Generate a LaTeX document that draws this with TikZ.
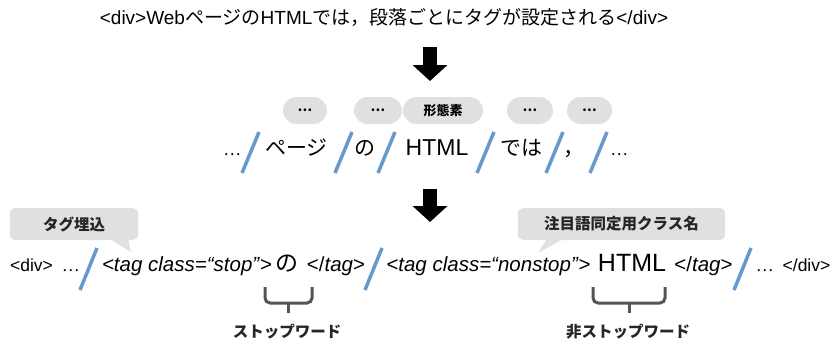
\documentclass[tikz,border=0pt]{standalone}
\usepackage{fontspec}
\setmainfont{Liberation Sans}
\newfontfamily\jp{Noto Sans CJK JP}
\usetikzlibrary{arrows.meta,shapes.misc}
\definecolor{cutblue}{RGB}{102,153,204}
\definecolor{boxgray}{RGB}{224,224,224}
\definecolor{bracegray}{RGB}{85,85,85}

\begin{document}
\begin{tikzpicture}[x=1pt,y=-1pt,
  every node/.style={inner sep=0pt},
  txt/.style={anchor=base,font=\fontsize{17.5}{21}\selectfont},
  tag/.style={anchor=base,font=\fontsize{20.5}{24}\selectfont},
  word/.style={anchor=base,font=\jp\fontsize{21}{24}\selectfont},
  big/.style={anchor=base,font=\fontsize{23}{27}\selectfont},
  pill/.style={rounded rectangle,fill=boxgray,minimum height=27pt,font=\jp\bfseries\fontsize{13}{15}\selectfont},
  note/.style={fill=boxgray,rounded corners=5pt,minimum height=32pt,text=black!85,font=\jp\bfseries\fontsize{15.5}{18}\selectfont},
  label/.style={text=black!85,font=\jp\bfseries\fontsize{15.5}{18}\selectfont},
  cut/.style={draw=cutblue,line width=3.5pt},
  brace/.style={draw=bracegray,line width=3pt,rounded corners=5pt},
  bigarrow/.style={line width=14pt,-{Triangle[width=34pt,length=16pt]}}]
  \useasboundingbox (0,0) rectangle (834,345);

  \node[txt,font=\fontsize{19}{23}\selectfont] (src) at (384,25) {<div>Web{\jp ページの}HTML{\jp では，段落ごとにタグが設定される}</div>};

  \coordinate (a1s) at (430,47);
  \coordinate (a1e) at (430,81);
  \draw[bigarrow] (a1s) -- (a1e);

  % morphemes
  \node[pill,minimum width=44pt] (m1) at (305,110.5) {…};
  \node[pill,minimum width=48pt] (m2) at (378,110.5) {…};
  \node[pill,minimum width=80pt] (m3) at (443,110.5) {形態素};
  \node[pill,minimum width=46pt] (m4) at (530,110.5) {…};
  \node[pill,minimum width=45pt] (m5) at (589.5,110.5) {…};

  \node[word,font=\jp\fontsize{16}{18}\selectfont] (w0) at (232,155) {…};
  \node[word] (w1) at (296.5,155) {ページ};
  \node[word] (w2) at (364.5,155) {の};
  \node[big] (w3) at (437,155) {HTML};
  \node[word] (w4) at (521,155) {では};
  \node[word,anchor=base west] (w5) at (563,155) {，};
  \node[word,font=\jp\fontsize{16}{18}\selectfont] (w6) at (619,155) {…};

  \foreach \x in {242,335,378,477,546,590}
    \draw[cut] (\x,173) -- ++(17,-41);

  \coordinate (a2s) at (430,189);
  \coordinate (a2e) at (430,222);
  \draw[bigarrow] (a2s) -- (a2e);

  % tagged text
  \node[txt] (t1) at (31.5,271) {<div>};
  \node[txt,font=\jp\fontsize{16}{18}\selectfont] (t2) at (70.5,271) {…};
  \node[tag] (t3) at (187,271) {\textit{<tag class=“stop”}>};
  \node[word,font=\jp\fontsize{23}{27}\selectfont] (t4) at (287,271) {の};
  \node[tag] (t5) at (336,271) {</\textit{tag}>};
  \node[tag] (t6) at (488.5,271) {\textit{<tag class=“nonstop”}>};
  \node[big,font=\fontsize{25}{29}\selectfont] (t7) at (632,271) {HTML};
  \node[tag] (t8) at (703.5,271) {</\textit{tag}>};
  \node[txt,font=\jp\fontsize{16}{18}\selectfont] (t9) at (764.5,271) {…};
  \node[txt] (t10) at (806.5,271) {</div>};

  \foreach \x in {80,365,734}
    \draw[cut] (\x,290) -- ++(17,-42);

  \node[note,minimum width=128pt] (n1) at (74,224) {タグ埋込};
  \fill[boxgray] (110,239) -- (128,239) -- (131,252) -- cycle;
  \node[note,minimum width=207pt] (n2) at (621.5,224) {注目語同定用クラス名};
  \fill[boxgray] (547,239) -- (563,239) -- (538,253) -- cycle;

  \draw[brace] (265,287) |- (288,303) -| (312,287);
  \draw[brace] (288,303) -- (288,313);
  \draw[brace] (593,287) |- (629,303) -| (665,287);
  \draw[brace] (629,303) -- (629,313);

  \node[label] (s1) at (287,332) {ストップワード};
  \node[label] (s2) at (628,332) {非ストップワード};
\end{tikzpicture}
\end{document}
